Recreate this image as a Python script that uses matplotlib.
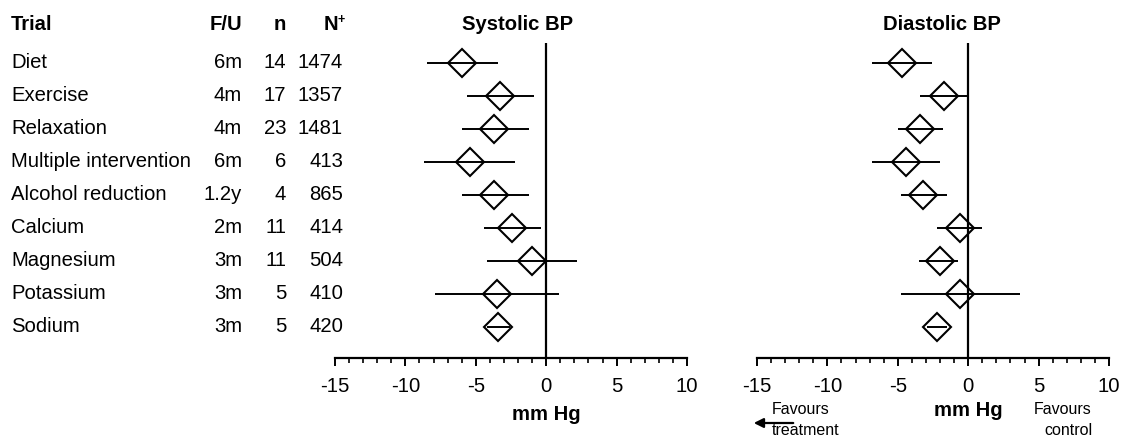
import matplotlib
matplotlib.use("Agg")
import matplotlib.pyplot as plt
import matplotlib.transforms as mtransforms
from matplotlib.ticker import MultipleLocator
from matplotlib.patches import FancyArrowPatch

plt.rcParams['font.family'] = ['Liberation Sans', 'DejaVu Sans']

# ---- data ----
trials = ["Diet", "Exercise", "Relaxation", "Multiple intervention",
          "Alcohol reduction", "Calcium", "Magnesium", "Potassium", "Sodium"]
followup = ["6m", "4m", "4m", "6m", "1.2y", "2m", "3m", "3m", "3m"]
n_trials = [14, 17, 23, 6, 4, 11, 11, 5, 5]
n_participants = [1474, 1357, 1481, 413, 865, 414, 504, 410, 420]

sbp_mean = [-6.0, -3.3, -3.7, -5.4, -3.7, -2.4, -1.0, -3.5, -3.4]
sbp_low = [-8.5, -5.6, -6.0, -8.7, -6.0, -4.4, -4.2, -7.9, -4.2]
sbp_high = [-3.4, -0.9, -1.2, -2.2, -1.2, -0.4, 2.2, 0.9, -2.6]

dbp_mean = [-4.7, -1.7, -3.4, -4.4, -3.2, -0.6, -2.0, -0.6, -2.2]
dbp_low = [-6.8, -3.4, -5.0, -6.8, -4.8, -2.2, -3.5, -4.8, -2.9]
dbp_high = [-2.6, -0.1, -1.8, -2.0, -1.5, 1.0, -0.7, 3.7, -1.5]

x_ticks = [-15, -10, -5, 0, 5, 10]

# ---- figure ----
W, H = 1121, 444
fig = plt.figure(figsize=(W / 100, H / 100), dpi=100)
FS = 14.6


def fx(px):
    return px / W


def fy(py):
    return 1 - py / H


ax_top, ax_bot = 43, 358
ax1 = fig.add_axes([fx(335), fy(ax_bot), 352 / W, (ax_bot - ax_top) / H])
ax2 = fig.add_axes([fx(757), fy(ax_bot), 352 / W, (ax_bot - ax_top) / H])

rows = list(range(len(trials)))

for ax, m, lo, hi in [(ax1, sbp_mean, sbp_low, sbp_high),
                      (ax2, dbp_mean, dbp_low, dbp_high)]:
    ax.set_xlim(-15, 10)
    ax.set_ylim(8.94, -0.606)
    for s in ['left', 'right', 'top']:
        ax.spines[s].set_visible(False)
    ax.spines['bottom'].set_linewidth(1.6)
    ax.set_yticks([])
    ax.set_xticks(x_ticks)
    ax.set_xticklabels([str(t) for t in x_ticks])
    ax.xaxis.set_minor_locator(MultipleLocator(1))
    ax.tick_params(axis='x', which='major', direction='out', length=6,
                   width=1.4, labelsize=FS, pad=7.5)
    ax.tick_params(axis='x', which='minor', direction='out', length=3.5,
                   width=1.2)
    ax.axvline(0, color='black', lw=1.6)
    ax.hlines(rows, lo, hi, color='black', lw=1.4)
    ax.plot(m, rows, linestyle='none', marker='D', ms=14, mfc='none',
            mec='black', mew=1.5)
    ax.patch.set_alpha(0)

# ---- left table ----
trans = mtransforms.blended_transform_factory(fig.transFigure, ax1.transData)
hdr_y = fy(24)
fig.text(fx(11), hdr_y, "Trial", fontsize=FS, fontweight='bold', va='center', ha='left')
fig.text(fx(242), hdr_y, "F/U", fontsize=FS, fontweight='bold', va='center', ha='right')
fig.text(fx(286), hdr_y, "n", fontsize=FS, fontweight='bold', va='center', ha='right')
fig.text(fx(338), hdr_y, "N", fontsize=FS, fontweight='bold', va='center', ha='right')
fig.text(fx(338), fy(20), "+", fontsize=9, fontweight='bold', va='center', ha='left')

for i, r in enumerate(rows):
    fig.text(fx(11), r, trials[i], transform=trans, fontsize=FS, va='center', ha='left')
    fig.text(fx(242), r, followup[i], transform=trans, fontsize=FS, va='center', ha='right')
    fig.text(fx(286), r, str(n_trials[i]), transform=trans, fontsize=FS, va='center', ha='right')
    fig.text(fx(343), r, str(n_participants[i]), transform=trans, fontsize=FS, va='center', ha='right')

# ---- titles and axis labels ----
for ax, title, tx, ly in [(ax1, "Systolic BP", -2.0, 414), (ax2, "Diastolic BP", -1.85, 410)]:
    tr = mtransforms.blended_transform_factory(ax.transData, fig.transFigure)
    ax.text(tx, fy(24), title, transform=tr, fontsize=FS, fontweight='bold',
            ha='center', va='center')
    ax.text(0, fy(ly), "mm Hg", transform=tr, fontsize=FS, fontweight='bold',
            ha='center', va='center')

# ---- favours annotations ----
FS2 = 11.5
fig.text(fx(772), fy(409), "Favours", fontsize=FS2, ha='left', va='center')
fig.text(fx(772), fy(430), "treatment", fontsize=FS2, ha='left', va='center')
fig.text(fx(1063), fy(409), "Favours", fontsize=FS2, ha='center', va='center')
fig.text(fx(1068), fy(430), "control", fontsize=FS2, ha='center', va='center')
arrow = FancyArrowPatch((fx(796), fy(423)), (fx(751), fy(423)),
                        transform=fig.transFigure, arrowstyle='-|>',
                        mutation_scale=14, lw=1.6, color='black')
fig.patches.append(arrow)

fig.savefig("out.png", dpi=100)
